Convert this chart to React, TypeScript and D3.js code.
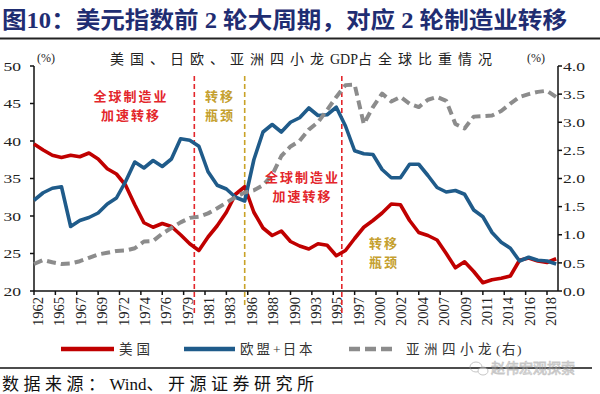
import { useEffect, useRef } from 'react'
import * as d3 from 'd3'

const YEARS = [
  1962, 1963, 1964, 1965, 1966, 1967, 1968, 1969, 1970, 1971,
  1972, 1973, 1974, 1975, 1976, 1977, 1978, 1979, 1980, 1981,
  1982, 1983, 1984, 1985, 1986, 1987, 1988, 1989, 1990, 1991,
  1992, 1993, 1994, 1995, 1996, 1997, 1998, 1999, 2000, 2001,
  2002, 2003, 2004, 2005, 2006, 2007, 2008, 2009, 2010, 2011,
  2012, 2013, 2014, 2015, 2016, 2017, 2018, 2019,
]

// 美国 (left axis, %)
const US = [
  39.6, 38.8, 38.1, 37.8, 38.1, 37.9, 38.4, 37.6, 36.3, 35.6,
  34.1, 31.5, 29.1, 28.5, 29.0, 28.6, 27.5, 26.3, 25.4, 27.2,
  28.7, 30.5, 32.9, 33.9, 30.5, 28.4, 27.4, 28.0, 26.6, 26.0,
  25.6, 26.3, 26.1, 24.7, 25.4, 27.0, 28.5, 29.4, 30.4, 31.6,
  31.5, 29.4, 27.8, 27.4, 26.8, 25.0, 23.1, 23.9, 22.6, 21.1,
  21.5, 21.7, 22.0, 24.1, 24.4, 24.0, 23.8, 24.3,
]

// 欧盟+日本 (left axis, %)
const EU_JP = [
  32.1, 33.1, 33.7, 33.9, 28.6, 29.4, 29.8, 30.4, 31.6, 32.4,
  34.6, 37.2, 36.4, 37.4, 36.6, 37.6, 40.3, 40.1, 39.3, 35.9,
  34.1, 33.6, 32.5, 32.0, 37.5, 41.2, 42.2, 41.2, 42.5, 43.1,
  44.4, 43.4, 43.5, 44.5, 42.0, 38.7, 38.3, 38.2, 36.2, 35.1,
  35.1, 36.9, 36.9, 35.4, 33.8, 33.2, 33.4, 32.9, 30.8, 29.9,
  27.8, 26.5, 25.7, 24.0, 24.5, 24.1, 24.0, 23.6,
]

// 亚洲四小龙 (right axis, %)
const ASIA4 = [
  0.48, 0.55, 0.51, 0.48, 0.49, 0.53, 0.59, 0.65, 0.68, 0.71,
  0.72, 0.76, 0.88, 0.89, 1.02, 1.12, 1.22, 1.30, 1.32, 1.38,
  1.47, 1.57, 1.67, 1.75, 1.79, 1.88, 2.06, 2.40, 2.57, 2.67,
  2.87, 3.00, 3.22, 3.45, 3.66, 3.67, 2.97, 3.27, 3.51, 3.37,
  3.45, 3.33, 3.27, 3.40, 3.45, 3.38, 2.97, 2.89, 3.10, 3.11,
  3.12, 3.20, 3.33, 3.45, 3.50, 3.54, 3.56, 3.45,
]

const X_LABELS = [
  '1962', '1965', '1967', '1969', '1972', '1974', '1976', '1979', '1981',
  '1983', '1986', '1988', '1990', '1993', '1995', '1997', '2000', '2002',
  '2004', '2007', '2009', '2011', '2014', '2016', '2018',
]
const LEFT_TICKS = [20, 25, 30, 35, 40, 45, 50]
const RIGHT_TICKS = [0, 0.5, 1, 1.5, 2, 2.5, 3, 3.5, 4]

// vertical markers (year position) and annotation texts
const MARKERS = [
  { year: 1979.5, color: '#e3262b' },
  { year: 1985, color: '#c9a227' },
  { year: 1995.6, color: '#e3262b' },
]
const NOTES = [
  { year: 1972.6, value: 45.3, lines: ['全球制造业', '加速转移'], color: '#e3262b' },
  { year: 1982.3, value: 45.3, lines: ['转移', '瓶颈'], color: '#c5a02e' },
  { year: 1991.3, value: 34.5, lines: ['全球制造业', '加速转移'], color: '#e3262b' },
  { year: 2000.2, value: 25.7, lines: ['转移', '瓶颈'], color: '#c5a02e' },
]

const SERIF = '"Liberation Serif", "Noto Sans CJK SC", serif'
const CJK = '"Noto Sans CJK SC", sans-serif'

type Part = { t: string; ls: number }

export default function App() {
  const svgRef = useRef<SVGSVGElement>(null)

  useEffect(() => {
    document.body.style.margin = '0'
    if (!svgRef.current) return
    const W = 600
    const H = 394
    const svg = d3.select(svgRef.current)
    svg.selectAll('*').remove()
    svg.attr('width', W).attr('height', H)

    svg.append('rect').attr('width', W).attr('height', H).attr('fill', '#fff')

    const mixed = (
      xPos: number, yPos: number, parts: Part[], size: number, fill: string,
    ) => {
      const t = svg.append('text').attr('x', xPos).attr('y', yPos)
        .attr('font-family', SERIF).attr('font-size', size).attr('fill', fill)
      parts.forEach(p => t.append('tspan').attr('letter-spacing', p.ls).text(p.t))
      return t
    }

    // Heading
    svg.append('text')
      .attr('x', 2).attr('y', 28)
      .attr('font-family', SERIF).attr('font-weight', 'bold').attr('font-size', 23)
      .attr('fill', '#1f2d72')
      .attr('textLength', 565).attr('lengthAdjust', 'spacingAndGlyphs')
      .text('图10：美元指数前 2 轮大周期，对应 2 轮制造业转移')
    svg.append('line').attr('x1', 0).attr('x2', W).attr('y1', 38.5).attr('y2', 38.5)
      .attr('stroke', '#222').attr('stroke-width', 2)

    const left = 34
    const right = 558
    const top = 66
    const bottom = 291

    const x = d3.scaleLinear().domain([1962, 2018]).range([left, 547])
    const yL = d3.scaleLinear().domain([20, 50]).range([bottom, top])
    const yR = d3.scaleLinear().domain([0, 4]).range([bottom, top])

    // chart title and units
    mixed(110, 64, [
      { t: '美国、日欧、亚洲四小龙', ls: 6 },
      { t: 'GDP', ls: 0 },
      { t: '占全球比重情况', ls: 6 },
    ], 14, '#222')
    svg.append('text').attr('x', 37).attr('y', 62)
      .attr('font-family', SERIF).attr('font-size', 12).attr('fill', '#222').text('(%)')
    svg.append('text').attr('x', 527).attr('y', 62)
      .attr('font-family', SERIF).attr('font-size', 12).attr('fill', '#222').text('(%)')

    // axes
    const axisG = svg.append('g').attr('stroke', '#111').attr('stroke-width', 1.5)
    axisG.append('line').attr('x1', left).attr('x2', left).attr('y1', top).attr('y2', bottom)
    axisG.append('line').attr('x1', right).attr('x2', right).attr('y1', top).attr('y2', bottom)
    axisG.append('line').attr('x1', left).attr('x2', right).attr('y1', bottom).attr('y2', bottom)

    LEFT_TICKS.forEach(t => {
      axisG.append('line').attr('x1', left - 4).attr('x2', left).attr('y1', yL(t)).attr('y2', yL(t))
      svg.append('text')
        .attr('transform', `translate(21,${yL(t)}) scale(1.3,1)`)
        .attr('dy', '0.35em')
        .attr('text-anchor', 'end').attr('font-family', SERIF).attr('font-size', 13.5)
        .attr('fill', '#222').text(String(t))
    })
    RIGHT_TICKS.forEach(t => {
      axisG.append('line').attr('x1', right).attr('x2', right + 4).attr('y1', yR(t)).attr('y2', yR(t))
      svg.append('text')
        .attr('transform', `translate(563,${yR(t)}) scale(1.3,1)`)
        .attr('dy', '0.35em')
        .attr('font-family', SERIF).attr('font-size', 13.5)
        .attr('fill', '#222').text(t.toFixed(1))
    })

    const first = +X_LABELS[0]
    const step = (+X_LABELS[X_LABELS.length - 1] - first) / (X_LABELS.length - 1)
    X_LABELS.forEach((lab, i) => {
      const px = x(first + i * step)
      axisG.append('line').attr('x1', px).attr('x2', px).attr('y1', bottom).attr('y2', bottom + 4)
      svg.append('text')
        .attr('transform', `translate(${px + 4},${bottom + 6}) rotate(-90)`)
        .attr('dy', '0.35em').attr('text-anchor', 'end')
        .attr('font-family', SERIF).attr('font-size', 14.5).attr('fill', '#222')
        .text(lab)
    })

    // vertical dashed markers
    MARKERS.forEach((m, i) => {
      svg.append('line')
        .attr('x1', x(m.year)).attr('x2', x(m.year))
        .attr('y1', 76).attr('y2', i === 1 ? 307 : 316)
        .attr('stroke', m.color).attr('stroke-width', 1.6)
        .attr('stroke-dasharray', '5,3')
    })

    // series
    const lineL = d3.line<number>().x((_, i) => x(YEARS[i])).y(d => yL(d))
    const lineR = d3.line<number>().x((_, i) => x(YEARS[i])).y(d => yR(d))

    svg.append('path').attr('d', lineL(US))
      .attr('fill', 'none').attr('stroke', '#c00000').attr('stroke-width', 3.6)
      .attr('stroke-linejoin', 'round')
    svg.append('path').attr('d', lineL(EU_JP))
      .attr('fill', 'none').attr('stroke', '#1f5b8a').attr('stroke-width', 3.6)
      .attr('stroke-linejoin', 'round')
    svg.append('path').attr('d', lineR(ASIA4))
      .attr('fill', 'none').attr('stroke', '#8c8c8c').attr('stroke-width', 4)
      .attr('stroke-dasharray', '9,5').attr('stroke-linejoin', 'round')

    // annotations
    NOTES.forEach(n => {
      n.lines.forEach((ln, j) => {
        svg.append('text')
          .attr('x', x(n.year)).attr('y', yL(n.value) + j * 19)
          .attr('text-anchor', 'middle')
          .attr('font-family', CJK).attr('font-weight', 'bold').attr('font-size', 13)
          .attr('letter-spacing', 2)
          .attr('fill', n.color).text(ln)
      })
    })

    // legend
    const legY = 349
    const legend = [
      { x1: 61, x2: 114, tx: 119, parts: [{ t: '美国', ls: 4 }], color: '#c00000', dash: null },
      { x1: 184, x2: 235, tx: 240, parts: [{ t: '欧盟', ls: 3 }, { t: '+', ls: 2 }, { t: '日本', ls: 3 }], color: '#1f5b8a', dash: null },
      { x1: 349, x2: 396, tx: 406, parts: [{ t: '亚洲四小龙', ls: 4.5 }, { t: '(右)', ls: 1.5 }], color: '#8c8c8c', dash: '11,5' },
    ]
    legend.forEach(l => {
      const seg = svg.append('line').attr('x1', l.x1).attr('x2', l.x2).attr('y1', legY).attr('y2', legY)
        .attr('stroke', l.color).attr('stroke-width', 4.5)
      if (l.dash) seg.attr('stroke-dasharray', l.dash)
      mixed(l.tx, legY, l.parts, 13.5, '#333').attr('dy', '0.38em')
    })

    // footer
    svg.append('line').attr('x1', 0).attr('x2', 592).attr('y1', 368).attr('y2', 368)
      .attr('stroke', '#111').attr('stroke-width', 1.5)
    mixed(2, 390, [
      { t: '数据来源：', ls: 4.5 },
      { t: 'Wind', ls: 0 },
      { t: '、开源证券研究所', ls: 4.5 },
    ], 17, '#111')
    const wm = svg.append('g').attr('opacity', 0.55)
    wm.append('ellipse').attr('cx', 476).attr('cy', 367).attr('rx', 6).attr('ry', 5)
      .attr('fill', 'none').attr('stroke', '#999').attr('stroke-width', 1)
    wm.append('ellipse').attr('cx', 483).attr('cy', 371).attr('rx', 5).attr('ry', 4)
      .attr('fill', '#fff').attr('stroke', '#999').attr('stroke-width', 1)
    wm.append('text').attr('x', 491).attr('y', 373)
      .attr('font-family', CJK).attr('font-size', 14).attr('fill', '#fff')
      .attr('stroke', '#999').attr('stroke-width', 0.8)
      .text('赵伟宏观探索')
  }, [])

  return <svg ref={svgRef} style={{ display: 'block' }} />
}
